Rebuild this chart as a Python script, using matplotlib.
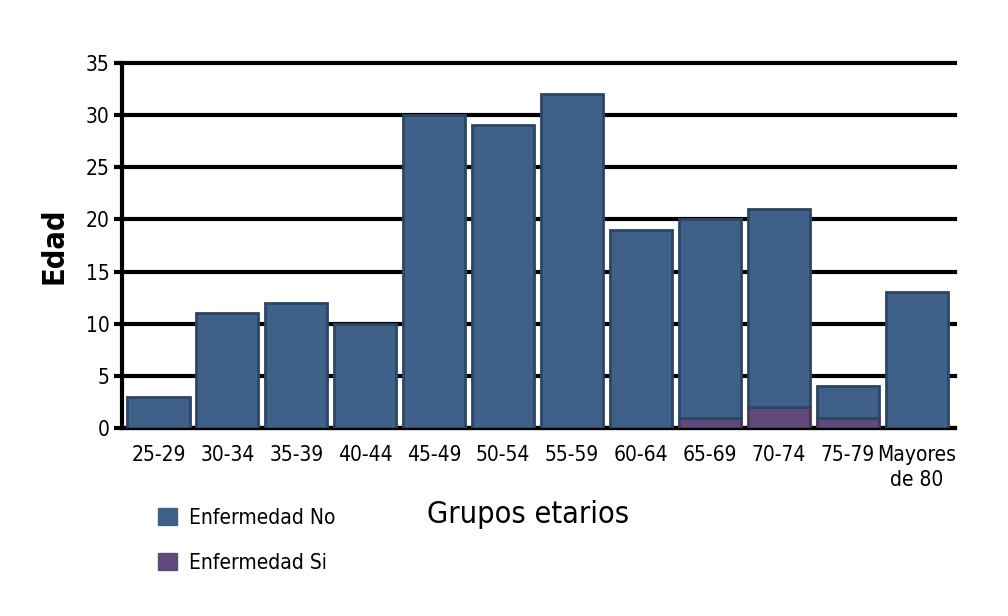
import matplotlib
matplotlib.use('Agg')
import matplotlib.pyplot as plt
import numpy as np
from matplotlib.patches import Patch

plt.rcParams['font.family'] = ['DejaVu Sans']
plt.rcParams['font.stretch'] = 'condensed'

grupos = ['25-29', '30-34', '35-39', '40-44', '45-49', '50-54', '55-59',
          '60-64', '65-69', '70-74', '75-79', 'Mayores\nde 80']
enf_si = [0, 0, 0, 0, 0, 0, 0, 0, 1, 2, 1, 0]
enf_no = [3, 11, 12, 10, 30, 29, 32, 19, 19, 19, 3, 13]

c_no = '#3f6189'
c_si = '#5f4a7b'

fig = plt.figure(figsize=(10.08, 6.16), dpi=100)
ax = fig.add_axes([0.121, 0.305, 0.826, 0.593])

x = np.arange(len(grupos))
ax.bar(x, enf_si, width=0.9, color=c_si, edgecolor='#47375d', linewidth=2, zorder=3)
ax.bar(x, enf_no, width=0.9, bottom=enf_si, color=c_no, edgecolor='#2c4566',
       linewidth=2, zorder=3)

ax.set_xlim(-0.53, len(grupos) - 0.45)
ax.set_ylim(0, 35)
ax.set_yticks(range(0, 36, 5))
ax.yaxis.grid(True, color='black', linewidth=3, zorder=0)
ax.set_axisbelow(True)
for gl in ax.get_ygridlines():
    gl.set_clip_on(False)
for s in ['top', 'right']:
    ax.spines[s].set_visible(False)
ax.spines['left'].set_linewidth(3)
ax.spines['bottom'].set_linewidth(3)
ax.tick_params(axis='y', length=6, width=3, labelsize=15, pad=3)
ax.tick_params(axis='x', length=0, labelsize=15, pad=12)
ax.set_xticks(x)
ax.set_xticklabels(grupos, linespacing=1.3)

ax.set_ylabel('Edad', fontsize=22, fontweight='bold', labelpad=12)
fig.text(0.524, 0.165, 'Grupos etarios', fontsize=22, ha='center', va='center')

handles = [Patch(color=c_no, label='Enfermedad No'),
           Patch(color=c_si, label='Enfermedad Si')]
fig.legend(handles=handles, loc='upper left', bbox_to_anchor=(0.138, 0.206),
           frameon=False, fontsize=15, handlelength=0.9, handleheight=0.9,
           labelspacing=1.2, handletextpad=0.6)

fig.savefig('out.png', dpi=100)
